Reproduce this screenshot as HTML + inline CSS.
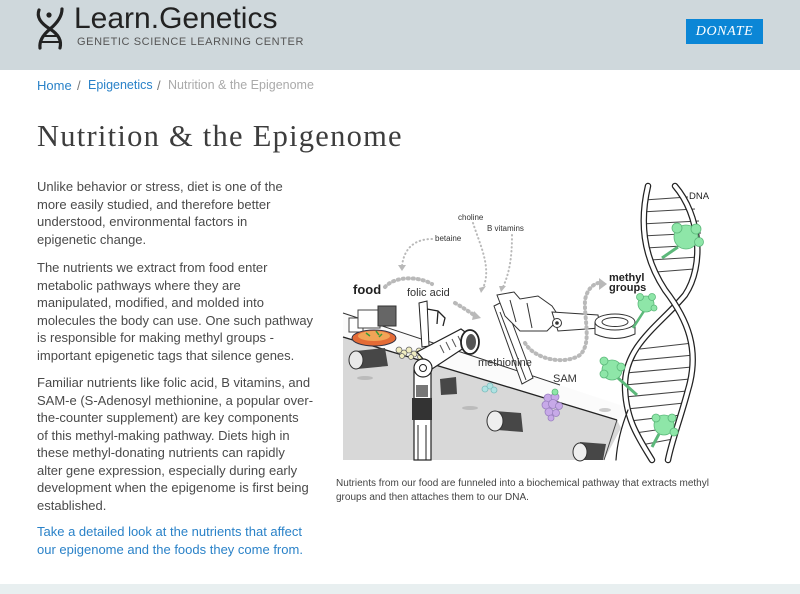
<!DOCTYPE html>
<html>
<head>
<meta charset="utf-8">
<style>
  html,body{margin:0;padding:0;background:#fff;}
  body{width:800px;height:594px;position:relative;overflow:hidden;font-family:"Liberation Sans",Arial,sans-serif;}
  .abs{position:absolute;white-space:nowrap;}
  #hdr{position:absolute;left:0;top:0;width:800px;height:70px;background:#cfd8dc;}
  #foot{position:absolute;left:0;top:584px;width:800px;height:10px;background:#e8eff0;}
  .p{position:absolute;left:37px;font-size:13px;line-height:17.5px;color:#4a4a4a;white-space:nowrap;}
  .lnk{color:#2a82c8;}
</style>
</head>
<body>
<div id="hdr"></div>

<!-- logo icon -->
<svg class="abs" style="left:0;top:0" width="120" height="60" viewBox="0 0 120 60">
  <path d="M39,10 C36,18 42,24 50,29 C58,34 62,40 60,48" fill="none" stroke="#222" stroke-width="3.2" stroke-linecap="round"/>
  <path d="M62,9 C62,17 56,24 50,29 C44,34 39,40 40,48" fill="none" stroke="#222" stroke-width="3.2" stroke-linecap="round"/>
  <circle cx="49" cy="15" r="2.6" fill="#222"/>
  <line x1="43" y1="36" x2="57" y2="36" stroke="#222" stroke-width="2"/>
  <line x1="41" y1="42" x2="59" y2="42" stroke="#222" stroke-width="2"/>
</svg>
<div class="abs" style="left:74px;top:2px;font-size:30px;color:#222;letter-spacing:0px;">Learn.Genetics</div>
<div class="abs" style="left:77px;top:36px;font-size:11px;color:#555;letter-spacing:0.6px;">GENETIC SCIENCE LEARNING CENTER</div>

<div class="abs" style="left:686px;top:19px;width:77px;height:25px;background:#0b86d6;color:#fff;font-family:'Liberation Serif',serif;font-style:italic;font-size:14px;line-height:25px;text-align:center;letter-spacing:0.6px;">DONATE</div>

<!-- breadcrumb -->
<div class="abs" style="left:37px;top:78px;font-size:13px;color:#2a82c8;">Home</div>
<div class="abs" style="left:77px;top:78px;font-size:13px;color:#777;">/</div>
<div class="abs" style="left:88px;top:78px;font-size:12.5px;color:#2a82c8;">Epigenetics</div>
<div class="abs" style="left:157px;top:78px;font-size:13px;color:#777;">/</div>
<div class="abs" style="left:168px;top:78px;font-size:12.5px;color:#aaa;">Nutrition &amp; the Epigenome</div>

<!-- title -->
<div class="abs" style="left:37px;top:119px;font-family:'Liberation Serif',serif;font-size:30.5px;color:#3d3d3d;letter-spacing:1.25px;">Nutrition &amp; the Epigenome</div>

<!-- body text -->
<div class="p" style="top:178px;">Unlike behavior or stress, diet is one of the<br>more easily studied, and therefore better<br>understood, environmental factors in<br>epigenetic change.</div>
<div class="p" style="top:259px;">The nutrients we extract from food enter<br>metabolic pathways where they are<br>manipulated, modified, and molded into<br>molecules the body can use. One such pathway<br>is responsible for making methyl groups -<br>important epigenetic tags that silence genes.</div>
<div class="p" style="top:374px;">Familiar nutrients like folic acid, B vitamins, and<br>SAM-e (S-Adenosyl methionine, a popular over-<br>the-counter supplement) are key components<br>of this methyl-making pathway. Diets high in<br>these methyl-donating nutrients can rapidly<br>alter gene expression, especially during early<br>development when the epigenome is first being<br>established.</div>
<div class="p lnk" style="top:523px;">Take a detailed look at the nutrients that affect<br>our epigenome and the foods they come from.</div>

<!-- caption -->
<div class="abs" style="left:336px;top:477px;font-size:10px;line-height:13.5px;color:#444;">Nutrients from our food are funneled into a biochemical pathway that extracts methyl<br>groups and then attaches them to our DNA.</div>

<!-- illustration -->
<svg class="abs" style="left:0;top:0" width="800" height="594" viewBox="0 0 800 594">
  <!-- belt -->
  <polygon points="343,337 617,420 621,428 604,460 343,460" fill="#d8d8d8"/>
  <polygon points="343,313 632,409 617,420 343,337" fill="#fbfbfb"/>
  <line x1="343" y1="313" x2="560" y2="385" stroke="#333" stroke-width="1"/>
  <line x1="343" y1="337" x2="617" y2="420" stroke="#222" stroke-width="1.3"/>
  <line x1="617" y1="420" x2="604" y2="460" stroke="#444" stroke-width="1"/>
  <!-- rollers -->
  <polygon points="356,351 385,348 388,366 357,369" fill="#474747"/>
  <ellipse cx="356" cy="360" rx="7" ry="9" fill="#e9e9e9" stroke="#333"/>
  <polygon points="440,379 456,377 457,394 441,395" fill="#474747"/>
  <polygon points="495,411 521,413 523,432 497,430" fill="#474747"/>
  <ellipse cx="495" cy="421" rx="8" ry="10" fill="#eee" stroke="#333"/>
  <polygon points="580,442 606,444 603,460 582,460" fill="#474747"/>
  <ellipse cx="580" cy="452" rx="7" ry="9" fill="#eee" stroke="#333"/>
  <ellipse cx="365" cy="378" rx="8" ry="2" fill="#bbb"/>
  <ellipse cx="470" cy="408" rx="8" ry="2" fill="#bbb"/>
  <ellipse cx="605" cy="410" rx="6" ry="2" fill="#ccc"/>

  <!-- food machine & plate -->
  <rect x="349" y="318" width="14" height="14" fill="#fff" stroke="#444"/>
  <rect x="358" y="310" width="22" height="18" fill="#fff" stroke="#444"/>
  <rect x="378" y="306" width="18" height="20" fill="#666" stroke="#333"/>
  <ellipse cx="374" cy="338" rx="22" ry="8" fill="#e46b36" stroke="#334" stroke-width="1"/>
  <ellipse cx="374" cy="336" rx="16" ry="5" fill="#f2a457"/>
  <path d="M366,333 l4,3 M376,331 l3,4 M382,334 l-3,3" stroke="#3a9a3a" stroke-width="1.5"/>

  <!-- folic acid arm -->
  <path d="M419,303 L427,301 L429,346 L422,347 Z" fill="#fff" stroke="#222"/>
  <path d="M427,309 L438,311 L445,318 L443,326 M438,311 L437,324" fill="none" stroke="#222" stroke-width="1.3"/>
  <g fill="#efecc0" stroke="#666" stroke-width="0.8">
    <circle cx="399" cy="350" r="3"/><circle cx="404" cy="353" r="3"/><circle cx="409" cy="350" r="3"/>
    <circle cx="414" cy="354" r="3"/><circle cx="419" cy="351" r="3"/><circle cx="424" cy="354" r="3"/>
    <circle cx="402" cy="356" r="2.5"/><circle cx="411" cy="357" r="2.5"/><circle cx="420" cy="357" r="2.5"/>
  </g>

  <!-- middle robot -->
  <polygon points="494,306 504,301 533,378 522,384" fill="#fff" stroke="#333"/>
  <line x1="500" y1="312" x2="526" y2="380" stroke="#333"/>
  <polygon points="497,295 514,292 520,299 538,296 552,306 560,318 547,331 520,331 505,316" fill="#fff" stroke="#333"/>
  <line x1="510" y1="300" x2="516" y2="322" stroke="#333"/>
  <line x1="527" y1="303" x2="532" y2="328" stroke="#333"/>
  <polygon points="552,312 598,315 600,328 558,331" fill="#fff" stroke="#333"/>
  <circle cx="557" cy="323" r="4.5" fill="#fff" stroke="#333"/>
  <circle cx="557" cy="323" r="1.8" fill="#333"/>
  <path d="M595,322 L595,334 Q615,343 635,334 L635,322" fill="#fff" stroke="#333"/>
  <ellipse cx="615" cy="322" rx="20" ry="8" fill="#fff" stroke="#333"/>
  <ellipse cx="615" cy="322" rx="13" ry="4.5" fill="#fff" stroke="#333"/>

  <!-- front robot -->
  <polygon points="417,352 461,329 476,340 432,369" fill="#fff" stroke="#222" stroke-width="1.2"/>
  <path d="M440,345 l4,8 M446,342 l4,8 M452,339 l4,8 M458,336 l4,8" stroke="#555"/>
  <ellipse cx="470" cy="342" rx="9" ry="12" fill="#fff" stroke="#222" stroke-width="1.8"/>
  <ellipse cx="471" cy="342" rx="5" ry="8" fill="#555"/>
  <rect x="414" y="370" width="17" height="90" fill="#fff" stroke="#222" stroke-width="1.2"/>
  <circle cx="423" cy="368" r="9" fill="#fff" stroke="#222" stroke-width="1.2"/>
  <circle cx="423" cy="368" r="3.5" fill="#fff" stroke="#222"/>
  <rect x="412" y="398" width="20" height="22" fill="#333"/>
  <rect x="416" y="385" width="12" height="12" fill="#777"/>
  <line x1="418" y1="425" x2="418" y2="460" stroke="#222"/>
  <line x1="426" y1="425" x2="426" y2="460" stroke="#222"/>

  <!-- molecules -->
  <g fill="#aee3e3" stroke="#7cbcbc" stroke-width="0.8">
    <circle cx="485" cy="389" r="3"/><circle cx="490" cy="386" r="3"/><circle cx="494" cy="390" r="3"/>
  </g>
  <g fill="#c7a9e8" stroke="#9a80c0" stroke-width="0.8">
    <circle cx="548" cy="398" r="4"/><circle cx="555" cy="397" r="4"/><circle cx="546" cy="405" r="4"/>
    <circle cx="553" cy="404" r="4.5"/><circle cx="559" cy="406" r="3.5"/><circle cx="549" cy="412" r="4"/>
    <circle cx="556" cy="413" r="3.5"/><circle cx="551" cy="418" r="3"/>
  </g>
  <circle cx="555" cy="392" r="3" fill="#8ee6a8" stroke="#5cb87a" stroke-width="0.8"/>

  <!-- dotted arrows -->
  <g fill="none" stroke="#b9b9b9" stroke-linecap="round">
    <path d="M432,239 C415,239 404,248 402,266" stroke-width="2" stroke-dasharray="0.5 3.5"/>
    <path d="M473,223 C480,245 492,268 483,288" stroke-width="2" stroke-dasharray="0.5 3.5"/>
    <path d="M512,235 C512,255 510,272 503,287" stroke-width="2" stroke-dasharray="0.5 3.5"/>
    <path d="M385,287 C395,276 418,276 432,284" stroke-width="4" stroke-dasharray="1 4"/>
    <path d="M455,303 C462,307 468,311 474,315" stroke-width="4" stroke-dasharray="1 4"/>
    <path d="M525,343 C535,360 565,365 580,355 C592,343 584,320 585,300 C587,290 592,285 598,283" stroke-width="4" stroke-dasharray="1 4"/>
  </g>
  <g fill="#b9b9b9">
    <polygon points="398,265 406,265 402,271"/>
    <polygon points="479,288 486,286 481,293"/>
    <polygon points="499,286 506,286 501,292"/>
    <polygon points="474,311 481,318 472,320"/>
    <polygon points="599,278 607,284 599,290"/>
  </g>

  <!-- DNA rungs -->
  <g stroke="#444" stroke-width="1.1">
    <line x1="644" y1="200" x2="688" y2="197"/>
    <line x1="641" y1="212" x2="695" y2="209"/>
    <line x1="641" y1="224" x2="699" y2="221"/>
    <line x1="642" y1="236" x2="701" y2="233"/>
    <line x1="645" y1="248" x2="701" y2="245"/>
    <line x1="650" y1="260" x2="699" y2="257"/>
    <line x1="656" y1="272" x2="694" y2="269"/>
    <line x1="640" y1="349" x2="693" y2="343"/>
    <line x1="630" y1="361" x2="694" y2="355"/>
    <line x1="626" y1="373" x2="692" y2="367"/>
    <line x1="625" y1="385" x2="690" y2="379"/>
    <line x1="625" y1="397" x2="687" y2="391"/>
    <line x1="627" y1="409" x2="684" y2="403"/>
    <line x1="630" y1="421" x2="681" y2="415"/>
    <line x1="635" y1="433" x2="677" y2="427"/>
    <line x1="641" y1="445" x2="673" y2="439"/>
  </g>
  <!-- DNA strands -->
  <g fill="none" stroke-linecap="round">
    <path d="M675,186 C700,215 705,265 685,295 C660,325 625,345 625,385 C625,420 640,440 652,460" stroke="#222" stroke-width="6.5"/>
    <path d="M675,186 C700,215 705,265 685,295 C660,325 625,345 625,385 C625,420 640,440 652,460" stroke="#fff" stroke-width="4"/>
    <path d="M648,186 C640,220 642,255 665,290 C688,320 700,350 688,390 C680,420 672,440 668,460" stroke="#222" stroke-width="6.5"/>
    <path d="M648,186 C640,220 642,255 665,290 C688,320 700,350 688,390 C680,420 672,440 668,460" stroke="#fff" stroke-width="4"/>
    <path d="M628,410 C620,430 617,445 616,460" stroke="#222" stroke-width="1.2"/>
  </g>

  <!-- methyl groups -->
  <g stroke="#5cb87a" stroke-width="0.8" fill="#8ee6a8">
    <line x1="678" y1="247" x2="662" y2="258" stroke="#5cb87a" stroke-width="3"/>
    <circle cx="686" cy="237" r="12"/><circle cx="677" cy="228" r="5"/><circle cx="696" cy="229" r="5"/><circle cx="699" cy="242" r="4.5"/>
    <line x1="644" y1="311" x2="633" y2="328" stroke="#5cb87a" stroke-width="2.5"/>
    <circle cx="646" cy="304" r="8"/><circle cx="640" cy="297" r="3.5"/><circle cx="652" cy="297" r="3.5"/><circle cx="654" cy="308" r="3"/>
    <line x1="618" y1="378" x2="637" y2="395" stroke="#5cb87a" stroke-width="3"/>
    <circle cx="612" cy="370" r="10"/><circle cx="604" cy="361" r="4"/><circle cx="604" cy="374" r="4"/><circle cx="621" cy="367" r="4"/>
    <line x1="659" y1="434" x2="652" y2="447" stroke="#5cb87a" stroke-width="3"/>
    <circle cx="664" cy="425" r="10"/><circle cx="656" cy="418" r="4"/><circle cx="672" cy="418" r="4"/><circle cx="674" cy="432" r="4"/>
  </g>

  <!-- labels -->
  <g font-family="Liberation Sans, Arial, sans-serif" fill="#222">
    <text x="689" y="199" font-size="9.5">DNA</text>
    <text x="458" y="220" font-size="8" fill="#333">choline</text>
    <text x="487" y="231" font-size="8" fill="#333">B vitamins</text>
    <text x="435" y="241" font-size="8" fill="#333">betaine</text>
    <text x="353" y="294" font-size="13" font-weight="bold">food</text>
    <text x="407" y="296" font-size="11" fill="#333">folic acid</text>
    <text x="478" y="366" font-size="11" fill="#333">methionine</text>
    <text x="553" y="382" font-size="11" fill="#333">SAM</text>
    <text x="609" y="281" font-size="11" font-weight="bold">methyl</text>
    <text x="609" y="291" font-size="11" font-weight="bold">groups</text>
  </g>
</svg>

<div id="foot"></div>
</body>
</html>
